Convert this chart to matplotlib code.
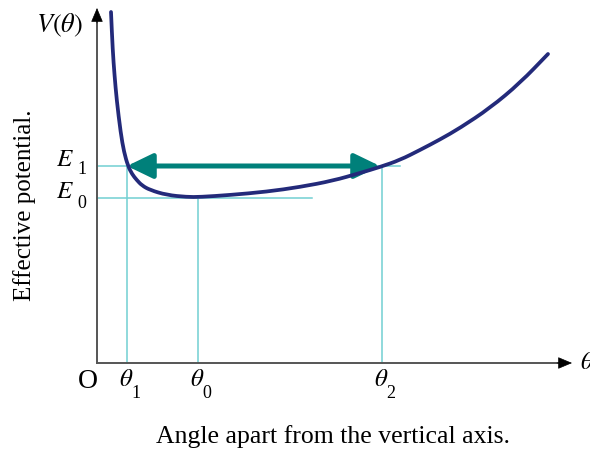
import matplotlib
matplotlib.use("Agg")
import matplotlib.pyplot as plt
from matplotlib.patches import FancyArrowPatch, ArrowStyle, PathPatch
from matplotlib.path import Path

plt.rcParams['font.family'] = ['Liberation Serif', 'DejaVu Serif']
plt.rcParams['mathtext.fontset'] = 'stix'

# Effective potential curve V(theta) (theta measured from the origin O)
theta = [14, 15.7, 17.5, 19.7, 23.7, 27, 31, 35, 39.7, 45, 53, 69.7, 90, 103,
         133, 169.7, 203, 236, 263, 283, 303, 323, 343, 363, 393, 423, 451]
V = [351, 313, 288, 263, 230, 211, 197, 189, 183, 177.5, 173, 168, 166, 166,
     168, 171.3, 176, 182.3, 190, 196, 203, 213, 223.5, 235, 255, 280, 309]

# Energy levels and turning points
E0, E1 = 165, 197
theta1, theta0, theta2 = 30, 101, 285

curve_color = '#232a7a'
guide_color = '#72d0d2'
arrow_color = '#00807a'
axis_color = '#555555'


def smooth_path(xs, ys):
    """Quadratic Bezier path through segment midpoints, using the points as controls."""
    pts = list(zip(xs, ys))
    verts = [pts[0]]
    codes = [Path.MOVETO]
    mids = [((a[0] + b[0]) / 2, (a[1] + b[1]) / 2) for a, b in zip(pts[:-1], pts[1:])]
    verts.append(mids[0])
    codes.append(Path.LINETO)
    for i in range(1, len(pts) - 1):
        verts += [pts[i], mids[i]]
        codes += [Path.CURVE3, Path.CURVE3]
    verts.append(pts[-1])
    codes.append(Path.LINETO)
    return Path(verts, codes)


fig = plt.figure(figsize=(5.9, 4.53), dpi=100)
ax = fig.add_axes([0, 0, 1, 1])
ax.set_xlim(-97, 493)
ax.set_ylim(-90, 363)
ax.axis('off')

# guide lines
ax.plot([0, 303], [E1, E1], color=guide_color, lw=1.1, zorder=1)
ax.plot([0, 215], [E0, E0], color=guide_color, lw=1.1, zorder=1)
ax.plot([theta1, theta1], [0, E1], color=guide_color, lw=1.1, zorder=1)
ax.plot([theta0, theta0], [0, E0], color=guide_color, lw=1.1, zorder=1)
ax.plot([theta2, theta2], [0, E1], color=guide_color, lw=1.1, zorder=1)

# coordinate axes with black arrowheads
ax.plot([0, 0], [0, 348], color=axis_color, lw=1.4, zorder=2)
ax.plot([0, 468], [0, 0], color=axis_color, lw=1.4, zorder=2)
head = ArrowStyle('-|>', head_length=0.9, head_width=0.38)
ax.add_patch(FancyArrowPatch((0, 340), (0, 355), arrowstyle=head,
                             mutation_scale=10, color='black', lw=0.5,
                             shrinkA=0, shrinkB=0, zorder=2))
ax.add_patch(FancyArrowPatch((460, 0), (475, 0), arrowstyle=head,
                             mutation_scale=10, color='black', lw=0.5,
                             shrinkA=0, shrinkB=0, zorder=2))

# oscillation range between the turning points
osc_style = ArrowStyle('<|-|>', head_length=1.55, head_width=0.75)
ax.add_patch(FancyArrowPatch((theta1, E1), (theta2 - 2, E1),
                             arrowstyle=osc_style, mutation_scale=10,
                             color=arrow_color, lw=3.6, shrinkA=0, shrinkB=0,
                             zorder=3))

# potential curve
ax.add_patch(PathPatch(smooth_path(theta, V), facecolor='none',
                       edgecolor=curve_color, lw=2.7, capstyle='round',
                       joinstyle='round', zorder=4))

# labels
ax.text(-37, 338, r'$V(\theta)$', fontsize=19, ha='center', va='center')
ax.text(-72, 158, 'Effective potential.', fontsize=18, rotation=90,
        ha='center', va='center')
ax.text(-32, 203, r'$E$', fontsize=18, ha='center', va='center')
ax.text(-15, 193, '1', fontsize=13, ha='center', va='center')
ax.text(-32, 171, r'$E$', fontsize=18, ha='center', va='center')
ax.text(-15, 160, '0', fontsize=13, ha='center', va='center')
ax.text(-9, -19, 'O', fontsize=20, ha='center', va='center')
for th, sub in [(theta1, '1'), (theta0, '0'), (theta2, '2')]:
    ax.text(th - 1, -17, r'$\theta$', fontsize=18, ha='center', va='center')
    ax.text(th + 9, -30, sub, fontsize=13, ha='center', va='center')
ax.text(483, 0, r'$\theta$', fontsize=18, ha='left', va='center')
ax.text(236, -74, 'Angle apart from the vertical axis.', fontsize=18.5,
        ha='center', va='center')

fig.savefig('out.png', dpi=100)
